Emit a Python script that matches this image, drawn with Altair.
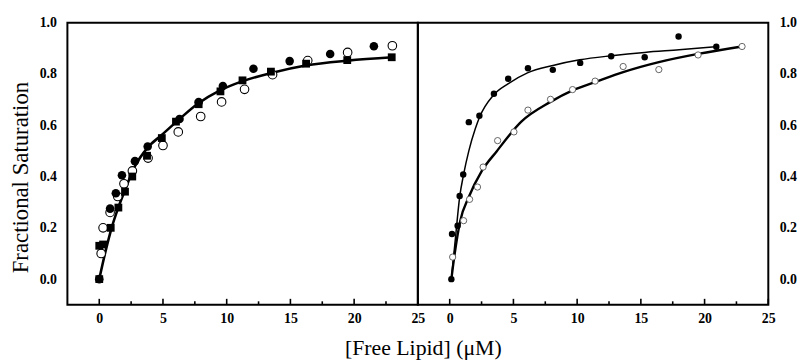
import altair as alt
import pandas as pd

# ---------------- data ----------------
L_fc_x = [0.0, 0.85, 1.3, 1.78, 2.8, 3.8, 6.3, 7.8, 9.7, 12.1, 14.94, 18.12, 21.55]
L_fc_y = [0.0, 0.275, 0.335, 0.405, 0.46, 0.517, 0.624, 0.69, 0.753, 0.82, 0.85, 0.878, 0.908]

L_oc_x = [0.15, 0.3, 0.85, 1.45, 1.94, 2.6, 3.83, 5.0, 6.2, 7.96, 9.6, 11.4, 13.6, 16.36, 19.49, 23.0]
L_oc_y = [0.1, 0.2, 0.26, 0.322, 0.372, 0.422, 0.472, 0.521, 0.574, 0.634, 0.691, 0.74, 0.797, 0.852, 0.884, 0.91]

L_sq_x = [0.0, 0.0, 0.3, 0.9, 1.5, 2.02, 2.59, 3.75, 4.91, 6.02, 7.8, 9.51, 11.24, 13.47, 16.23, 19.46, 22.95]
L_sq_y = [0.0, 0.13, 0.135, 0.2, 0.279, 0.341, 0.4, 0.481, 0.55, 0.614, 0.682, 0.732, 0.775, 0.809, 0.84, 0.854, 0.865]

L_fit_x = [0.0, 0.5, 1.0, 1.5, 2.0, 2.8, 3.8, 4.9, 6.2, 7.7, 9.4, 11.2, 13.5, 16.2, 19.5, 23.0]
L_fit_y = [0.0, 0.11, 0.205, 0.28, 0.345, 0.44, 0.513, 0.562, 0.62, 0.683, 0.734, 0.771, 0.804, 0.833, 0.852, 0.865]

R_fc_x = [0.13, 0.18, 0.62, 0.78, 1.06, 1.5, 2.33, 3.47, 4.59, 6.14, 8.09, 10.24, 12.67, 15.3, 17.96, 20.92]
R_fc_y = [0.0, 0.176, 0.208, 0.324, 0.408, 0.612, 0.637, 0.723, 0.781, 0.822, 0.816, 0.843, 0.869, 0.865, 0.946, 0.906]

R_oc_x = [0.23, 1.09, 1.56, 2.18, 2.62, 3.76, 5.04, 6.14, 7.91, 9.64, 11.41, 13.61, 16.41, 19.49, 22.94]
R_oc_y = [0.086, 0.228, 0.311, 0.359, 0.437, 0.54, 0.574, 0.659, 0.701, 0.739, 0.772, 0.829, 0.817, 0.874, 0.907]

R_fit1_x = [0.13, 0.45, 0.78, 1.09, 1.5, 2.0, 2.33, 3.45, 4.6, 6.1, 8.1, 10.2, 12.7, 15.3, 18.0, 20.92]
R_fit1_y = [0.0, 0.16, 0.32, 0.408, 0.5, 0.585, 0.63, 0.718, 0.762, 0.804, 0.833, 0.855, 0.871, 0.884, 0.894, 0.906]

R_fit2_x = [0.13, 0.39, 0.83, 1.48, 2.51, 3.68, 5.62, 7.91, 9.64, 11.41, 13.61, 16.41, 19.49, 22.94]
R_fit2_y = [0.0, 0.099, 0.228, 0.318, 0.421, 0.498, 0.614, 0.691, 0.736, 0.768, 0.807, 0.846, 0.878, 0.907]

x_major = [0, 5, 10, 15, 20, 25]
x_minor = [2.5, 7.5, 12.5, 17.5, 22.5]
y_major = [0.0, 0.2, 0.4, 0.6, 0.8, 1.0]

W, H = 354, 285
FONT = "Liberation Serif"
xs = alt.Scale(domain=[-2.5, 25], nice=False, zero=False)
ys = alt.Scale(domain=[-0.1, 1.0], nice=False, zero=False)


def df(x, y):
    return pd.DataFrame({"x": x, "y": y})


def x_axis(title, **kw):
    return alt.Axis(values=x_major, format="d", ticks=False, tickSize=0, domain=False, grid=False,
                    labelFont=FONT, labelFontWeight="bold", labelFontSize=14, labelColor="black",
                    labelPadding=7, labelFlush=False, title=title, titleFont=FONT,
                    titleFontSize=22, titleFontWeight="normal", titleColor="black", **kw)


def y_axis(orient, title, **kw):
    return alt.Axis(values=y_major, format=".1f", ticks=False, tickSize=0, domain=False, grid=False,
                    orient=orient, labelFont=FONT, labelFontWeight="bold", labelFontSize=14,
                    labelColor="black", labelPadding=11, title=title, titleFont=FONT,
                    titleFontSize=23, titleFontWeight="normal", titleColor="black", **kw)


def panel(xa, ya, layers):
    X = alt.X("x:Q", scale=xs, axis=xa)
    Y = alt.Y("y:Q", scale=ys, axis=ya)
    charts = []
    for kind, data, mark in layers:
        base = alt.Chart(df(*data))
        c = base.mark_line(**mark) if kind == "line" else base.mark_point(**mark)
        charts.append(c.encode(x=X, y=Y))
    # inward tick marks on the bottom axis
    tx_major = alt.Chart(pd.DataFrame({"x": x_major})).mark_rule(color="black", strokeWidth=1.6).encode(
        x=X, y=alt.value(H), y2=alt.value(H - 6))
    tx_minor = alt.Chart(pd.DataFrame({"x": x_minor})).mark_rule(color="black", strokeWidth=1.6).encode(
        x=X, y=alt.value(H), y2=alt.value(H - 3.5))
    return alt.layer(*charts, tx_major, tx_minor).properties(width=W, height=H)


left_layers = [
    ("line", (L_fit_x, L_fit_y), dict(color="black", strokeWidth=2.6, interpolate="monotone")),
    ("pt", (L_oc_x, L_oc_y), dict(shape="circle", size=75, filled=True, fill="white", stroke="black",
                                  strokeWidth=1.1, opacity=1, fillOpacity=1)),
    ("pt", (L_fc_x, L_fc_y), dict(shape="circle", size=75, filled=True, color="black", opacity=1)),
    ("pt", (L_sq_x, L_sq_y), dict(shape="square", size=62, filled=True, color="black", opacity=1)),
]

right_layers = [
    ("line", (R_fit1_x, R_fit1_y), dict(color="black", strokeWidth=1.5, interpolate="monotone")),
    ("line", (R_fit2_x, R_fit2_y), dict(color="black", strokeWidth=2.4, interpolate="monotone")),
    ("pt", (R_oc_x, R_oc_y), dict(shape="circle", size=40, filled=True, fill="white", stroke="#555555",
                                  strokeWidth=0.9, opacity=1, fillOpacity=1)),
    ("pt", (R_fc_x, R_fc_y), dict(shape="circle", size=42, filled=True, color="black", opacity=1)),
]

left = panel(
    x_axis("[Free Lipid] (\u03bcM)", titleX=359, titleY=50, titleAlign="center", titleBaseline="alphabetic"),
    y_axis("left", "Fractional Saturation", titlePadding=7, titleY=156, titleAlign="center"),
    left_layers)

right = panel(x_axis(""), y_axis("right", ""), right_layers)

chart = alt.hconcat(left, right, spacing=0, bounds="flush").properties(
    padding={"left": 0, "top": 5, "right": 0, "bottom": 0},
    background="white",
).configure_view(stroke="black", strokeWidth=2)

chart.save("out.html", embed_options={"renderer": "svg", "actions": False})
